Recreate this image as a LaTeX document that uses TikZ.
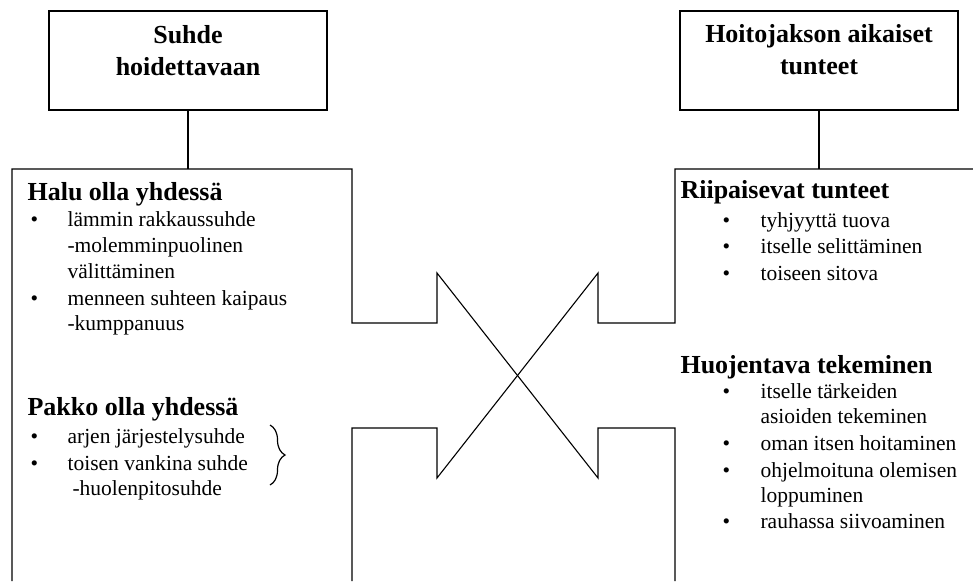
\documentclass[tikz,border=0pt]{standalone}
\usepackage{fontspec}
\setmainfont{Liberation Serif}
\usepackage{tikz}
\usetikzlibrary{positioning, calc, decorations.pathreplacing}

\tikzset{
	topbox/.style={draw, line width=1.1pt, minimum width=278pt, minimum height=99pt, inner sep=0pt},
	boxtext/.style={align=center, inner sep=0pt, anchor=north, font=\fontsize{26}{32}\selectfont\bfseries},
	head/.style={anchor=base west, inner sep=0pt, font=\fontsize{26}{32}\selectfont\bfseries},
	item/.style={anchor=base west, inner sep=0pt, font=\fontsize{21.5}{25.5}\selectfont},
	bul/.style={anchor=base west, inner sep=0pt, font=\fontsize{21.5}{25.5}\selectfont}
}

\begin{document}
\begin{tikzpicture}[x=1pt, y=-1pt, line width=1.1pt]
		\useasboundingbox (0,0) rectangle (973,581);
		\pgfmathsetmacro{\lb}{30}
		\pgfmathsetmacro{\lt}{67}
		\pgfmathsetmacro{\rb}{722}
		\pgfmathsetmacro{\rt}{760}
		
		\node[topbox] (suhde) at (188,60.5) {};
		\node[boxtext] (suhdetxt) at (188,25) {Suhde\\hoidettavaan};
		\node[topbox] (tunteet) at (819,60.5) {};
		\node[boxtext] (tunteettxt) at (819,24) {Hoitojakson aikaiset\\tunteet};
		
		\coordinate (ltop) at (12,169);
		\coordinate (rtop) at (675,169);
		\draw (suhde.south) -- (suhde.south |- ltop);
		\draw (tunteet.south) -- (tunteet.south |- rtop);
		
		\draw[line join=miter] (12,581) -- (ltop) -- (352,169) -- (352,323) -- (437,323) -- (437,273) -- (598,478) -- (598,428) -- (675,428) -- (675,581);
		\draw[line join=miter] (352,581) -- (352,428) -- (437,428) -- (437,478) -- (598,273) -- (598,323) -- (675,323) -- (rtop) -- (973,169);
		
		\node[head] (halu) at (27,200) {Halu olla yhdessä};
		\node[bul] (b1) at (\lb,226) {•};
		\node[item] (i1) at (\lt,226) {lämmin rakkaussuhde};
		\node[item] (i2) at (\lt,252) {-molemminpuolinen};
		\node[item] (i3) at (\lt,278) {välittäminen};
		\node[bul] (b2) at (\lb,305) {•};
		\node[item] (i4) at (\lt,305) {menneen suhteen kaipaus};
		\node[item] (i5) at (\lt,330) {-kumppanuus};
		
		\node[head] (pakko) at (27,415) {Pakko olla yhdessä};
		\node[bul] (b3) at (\lb,443) {•};
		\node[item] (i6) at (\lt,443) {arjen järjestelysuhde};
		\node[bul] (b4) at (\lb,470) {•};
		\node[item] (i7) at (\lt,470) {toisen vankina suhde};
		\node[item] (i8) at (72,495) {-huolenpitosuhde};
		\draw[line width=1.2pt, decorate, decoration={brace, amplitude=15pt}] (270,425) -- (270,485);
		
		\node[head] (riip) at (680,198) {Riipaisevat tunteet};
		\node[bul] (b5) at (\rb,227) {•};
		\node[item] (i9) at (\rt,227) {tyhjyyttä tuova};
		\node[bul] (b6) at (\rb,253) {•};
		\node[item] (i10) at (\rt,253) {itselle selittäminen};
		\node[bul] (b7) at (\rb,280) {•};
		\node[item] (i11) at (\rt,280) {toiseen sitova};
		
		\node[head] (huoj) at (680,373) {Huojentava tekeminen};
		\node[bul] (b8) at (\rb,398) {•};
		\node[item] (i12) at (\rt,398) {itselle tärkeiden};
		\node[item] (i13) at (\rt,423) {asioiden tekeminen};
		\node[bul] (b9) at (\rb,450) {•};
		\node[item] (i14) at (\rt,450) {oman itsen hoitaminen};
		\node[bul] (b10) at (\rb,477) {•};
		\node[item] (i15) at (\rt,477) {ohjelmoituna olemisen};
		\node[item] (i16) at (\rt,502) {loppuminen};
		\node[bul] (b11) at (\rb,528) {•};
		\node[item] (i17) at (\rt,528) {rauhassa siivoaminen};
\end{tikzpicture}
\end{document}
